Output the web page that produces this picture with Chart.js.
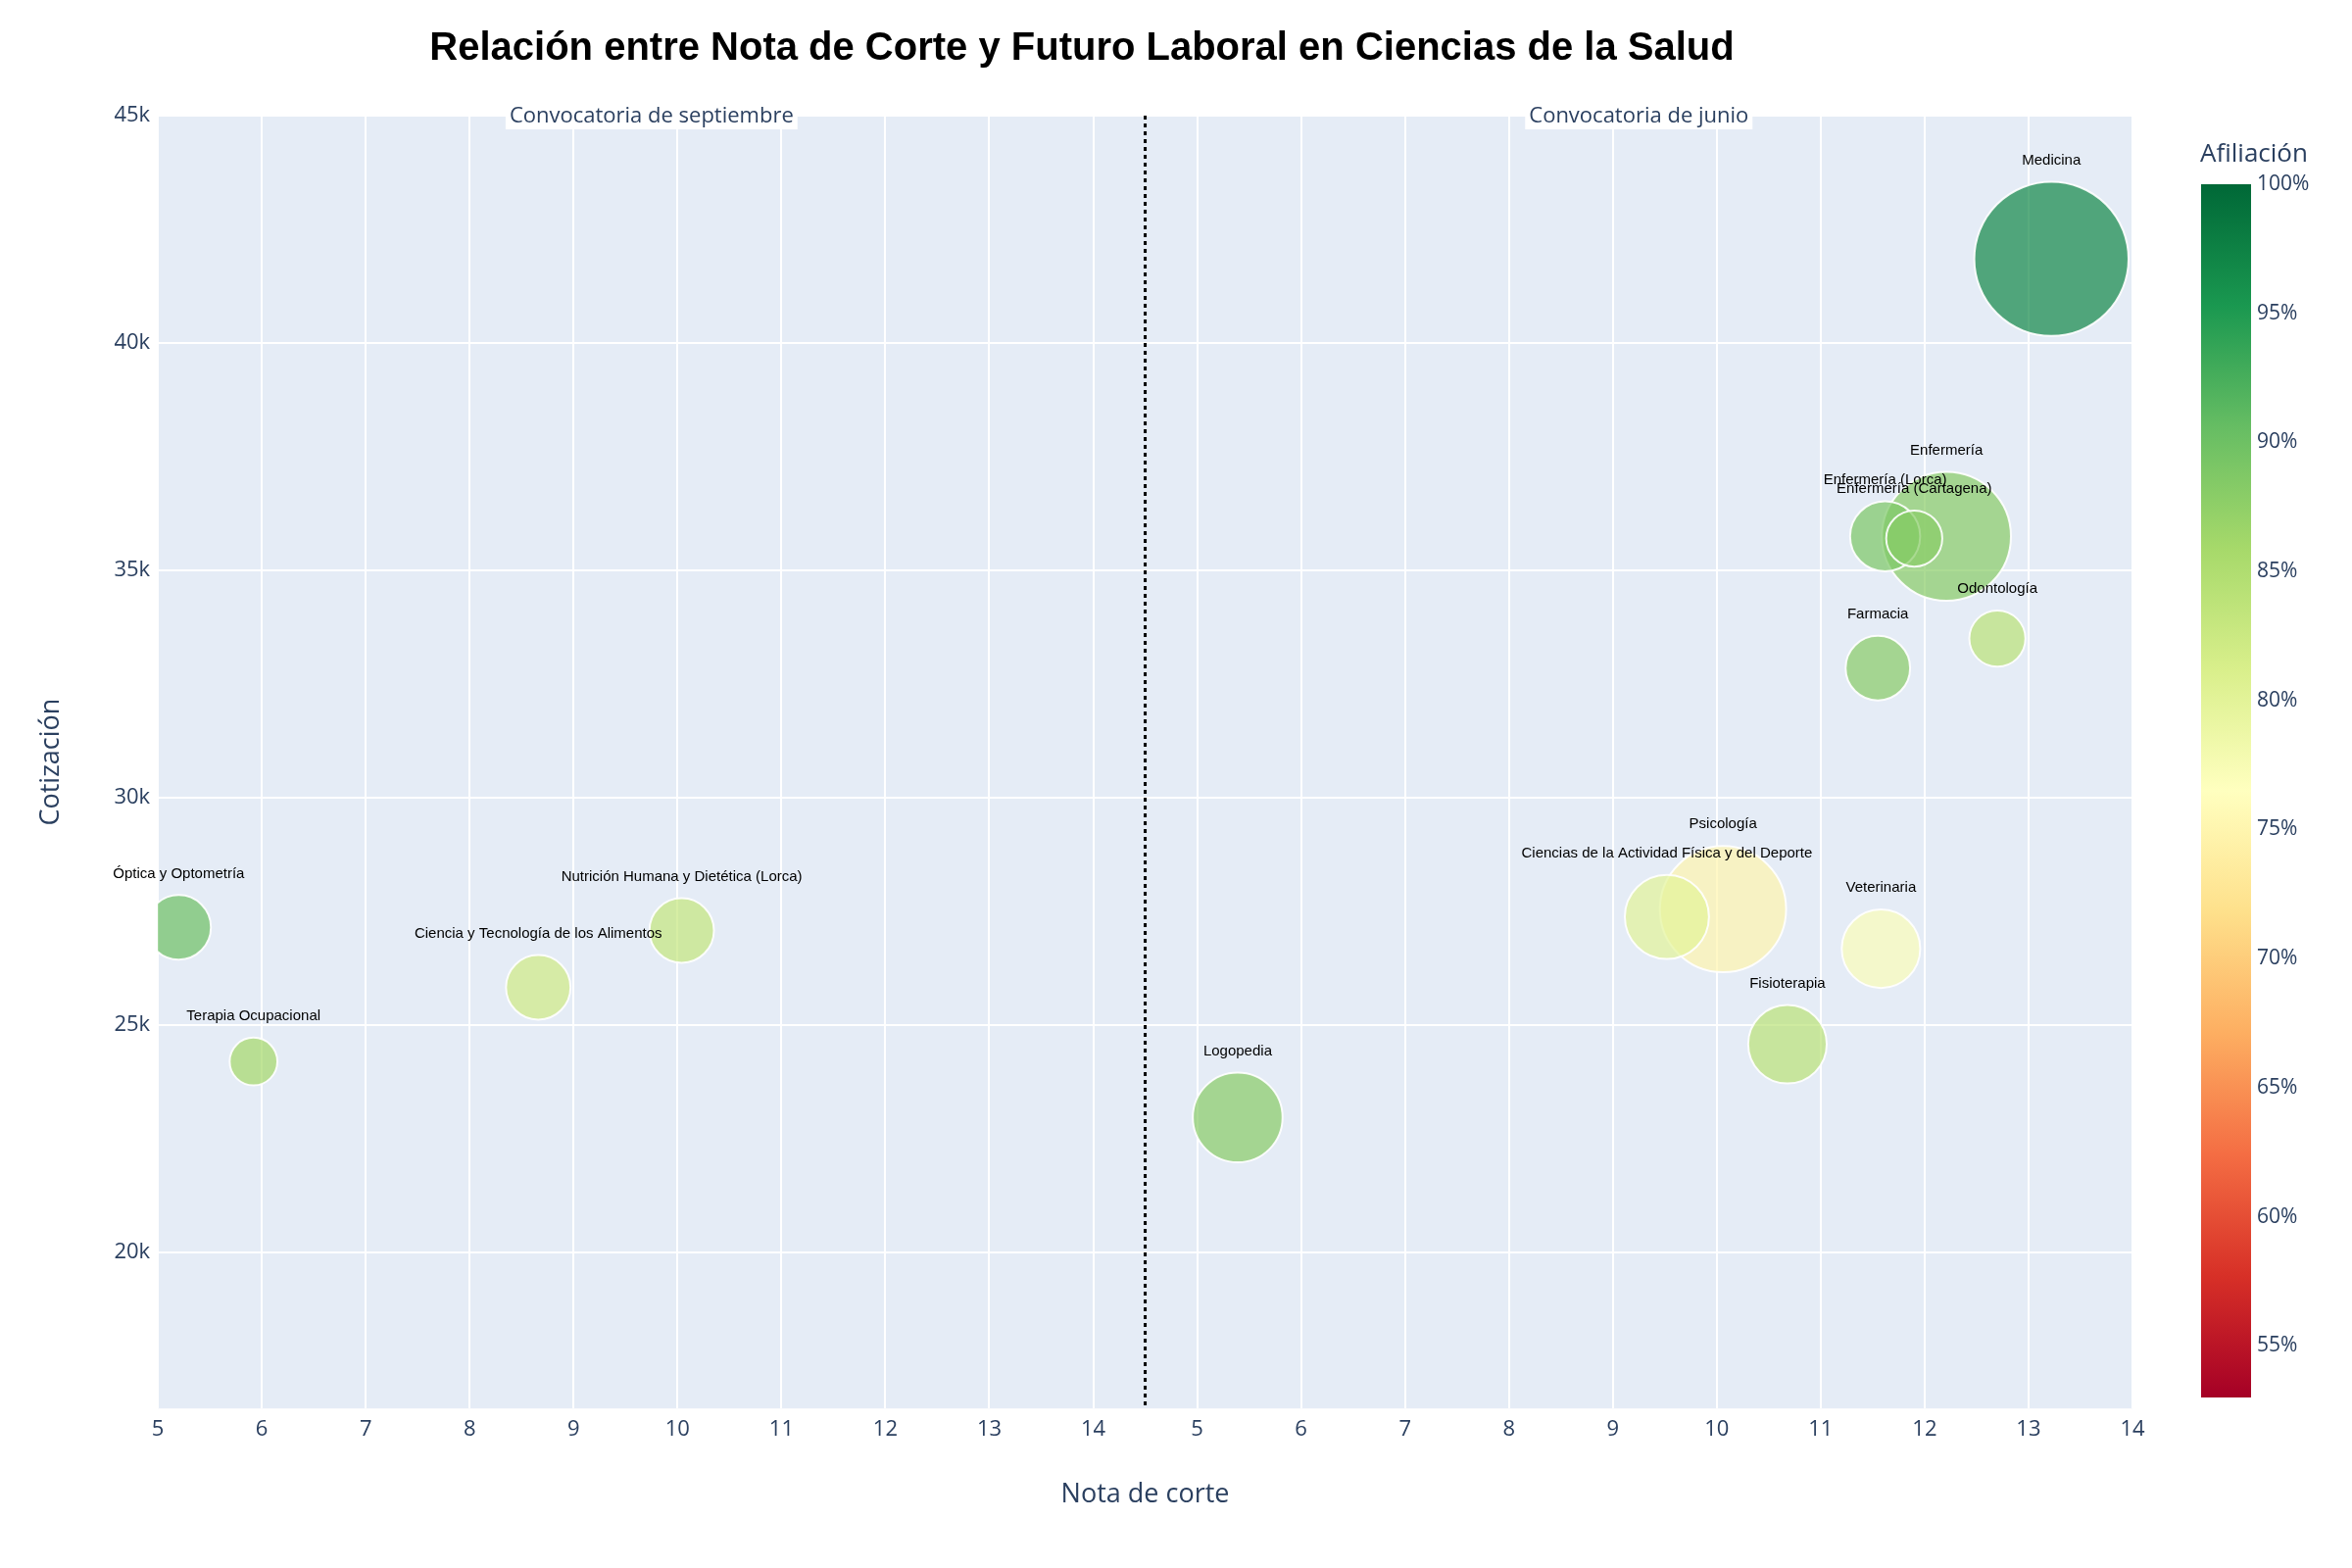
<!DOCTYPE html>
<html>
<head>
<meta charset="utf-8">
<script src="https://cdn.jsdelivr.net/npm/chart.js@4.4.0/dist/chart.umd.min.js"></script>
<style>
  html, body { margin: 0; padding: 0; background: #fff; }
  #wrap { width: 2400px; height: 1600px; }
</style>
</head>
<body>
<div id="wrap"><canvas id="c" width="2400" height="1600"></canvas></div>
<script>
// grados, nota de corte, cotización media, afiliación (%), tamaño de burbuja
const grados = [
  "Medicina", "Enfermería", "Enfermería (Lorca)", "Enfermería (Cartagena)", "Odontología",
  "Farmacia", "Psicología", "Ciencias de la Actividad Física y del Deporte", "Veterinaria",
  "Fisioterapia", "Logopedia", "Óptica y Optometría", "Terapia Ocupacional",
  "Ciencia y Tecnología de los Alimentos", "Nutrición Humana y Dietética (Lorca)"
];
const convocatoria = ["junio", "junio", "junio", "junio", "junio", "junio", "junio", "junio",
  "junio", "junio", "junio", "septiembre", "septiembre", "septiembre", "septiembre"];
const notaCorte = [13.22, 12.21, 11.62, 11.9, 12.70, 11.55, 10.06, 9.52, 11.58, 10.68, 5.39, 5.2, 5.92, 8.66, 10.04];
const cotizacion = [41850, 35750, 35750, 35700, 33500, 32850, 27550, 27380, 26680, 24580, 22970, 27150, 24200, 25830, 27080];
const afiliacion = [97, 88, 89, 88, 84, 88, 75, 80, 77, 84, 88, 90, 86, 82, 83];
const tamano = [55, 46, 25, 20, 20, 23, 45, 30, 28, 28, 32, 23, 17, 23, 23];

const xTicks = [5, 6, 7, 8, 9, 10, 11, 12, 13, 14, 15, 16, 17, 18, 19, 20, 21, 22, 23, 24];
const yTicks = [20000, 25000, 30000, 35000, 40000, 45000];
const cbTicks = [55, 60, 65, 70, 75, 80, 85, 90, 95, 100];
const cbMin = 53, cbMax = 100;

const S = 2400 / 1560 * 0.93;
const JUNIO_OFFSET = 10;

const rdylgn = [
  [165, 0, 38], [215, 48, 39], [244, 109, 67], [253, 174, 97], [254, 224, 139],
  [255, 255, 191], [217, 239, 139], [166, 217, 106], [102, 189, 99], [26, 152, 80], [0, 104, 55]
];
function colorAt(v, a) {
  let t = Math.max(0, Math.min(1, (v - cbMin) / (cbMax - cbMin))) * (rdylgn.length - 1);
  const i = Math.min(rdylgn.length - 2, Math.floor(t));
  const f = t - i;
  const c = rdylgn[i].map((x, k) => Math.round(x + (rdylgn[i + 1][k] - x) * f));
  return `rgba(${c[0]},${c[1]},${c[2]},${a})`;
}

const points = grados.map((g, i) => ({
  x: convocatoria[i] === "junio" ? notaCorte[i] + JUNIO_OFFSET : notaCorte[i],
  y: cotizacion[i],
  r: tamano[i] * S,
  label: g
}));

const extras = {
  id: "extras",
  beforeDraw(chart) {
    const { ctx, chartArea: a } = chart;
    ctx.save();
    ctx.fillStyle = "#e5ecf6";
    ctx.fillRect(a.left, a.top, a.right - a.left, a.bottom - a.top);
    ctx.restore();
  },
  afterDatasetsDraw(chart) {
    const { ctx, chartArea: a, scales } = chart;
    const meta = chart.getDatasetMeta(0);
    ctx.save();
    // divider line
    const xd = scales.x.getPixelForValue(14.5);
    ctx.strokeStyle = "#000";
    ctx.lineWidth = 3;
    ctx.setLineDash([4, 4]);
    ctx.beginPath(); ctx.moveTo(xd, a.top); ctx.lineTo(xd, a.bottom); ctx.stroke();
    ctx.setLineDash([]);
    // bubble labels
    ctx.font = "15px 'Liberation Sans', Arial";
    ctx.fillStyle = "#000";
    ctx.textAlign = "center";
    ctx.textBaseline = "middle";
    meta.data.forEach((el, i) => {
      ctx.fillText(points[i].label, el.x, el.y - points[i].r - 22);
    });
    // section headers
    ctx.font = "22px 'Open Sans'";
    [["Convocatoria de septiembre", (5 + 14.5) / 2], ["Convocatoria de junio", (14.5 + 24) / 2]].forEach(([t, v]) => {
      const px = scales.x.getPixelForValue(v);
      const w = ctx.measureText(t).width + 8;
      ctx.fillStyle = "#fff";
      ctx.fillRect(px - w / 2, a.top - 12, w, 26);
      ctx.fillStyle = "#2a3f5f";
      ctx.fillText(t, px, a.top + 1);
    });
    // colorbar
    const cx = 2246, cw = 51, cTop = 188, cBot = 1426;
    const grad = ctx.createLinearGradient(0, cBot, 0, cTop);
    rdylgn.forEach((c, k) => grad.addColorStop(k / (rdylgn.length - 1), `rgb(${c[0]},${c[1]},${c[2]})`));
    ctx.fillStyle = grad;
    ctx.fillRect(cx, cTop, cw, cBot - cTop);
    ctx.fillStyle = "#2a3f5f";
    ctx.textAlign = "left";
    ctx.font = "21px 'Open Sans'";
    cbTicks.forEach(v => {
      const py = cBot - (v - cbMin) / (cbMax - cbMin) * (cBot - cTop);
      ctx.fillText(v + "%", cx + cw + 6, py);
    });
    ctx.font = "26px 'Open Sans'";
    ctx.fillText("Afiliación", 2245, 158);
    ctx.restore();
  }
};

new Chart(document.getElementById("c"), {
  type: "bubble",
  data: {
    datasets: [{
      data: points,
      backgroundColor: afiliacion.map(v => colorAt(v, 0.7)),
      borderColor: "rgba(255,255,255,0.9)",
      borderWidth: 2
    }]
  },
  options: {
    responsive: false,
    animation: false,
    layout: { padding: { left: 32, right: 224, top: 26, bottom: 54 } },
    plugins: {
      legend: { display: false },
      tooltip: { enabled: false },
      title: {
        display: true,
        text: "Relación entre Nota de Corte y Futuro Laboral en Ciencias de la Salud",
        font: { family: "'Liberation Sans', Arial", size: 40, weight: "bold" },
        color: "#000",
        padding: { top: 0, bottom: 44 }
      }
    },
    scales: {
      x: {
        type: "linear", min: 5, max: 24,
        afterBuildTicks: s => { s.ticks = xTicks.map(v => ({ value: v })); },
        ticks: {
          callback: v => (v > 14.5 ? v - JUNIO_OFFSET : v),
          color: "#2a3f5f", font: { family: "'Open Sans'", size: 22 }, maxRotation: 0, padding: 8
        },
        grid: { color: "#fff", lineWidth: 2, drawTicks: false },
        border: { display: false },
        title: { display: true, text: "Nota de corte", color: "#2a3f5f", font: { family: "'Open Sans'", size: 27 }, padding: { top: 30 } }
      },
      y: {
        type: "linear", min: 16570, max: 45000,
        afterBuildTicks: s => { s.ticks = yTicks.map(v => ({ value: v })); },
        ticks: {
          callback: v => v / 1000 + "k",
          color: "#2a3f5f", font: { family: "'Open Sans'", size: 22 }, padding: 8
        },
        grid: { color: "#fff", lineWidth: 2, drawTicks: false },
        border: { display: false },
        title: { display: true, text: "Cotización", color: "#2a3f5f", font: { family: "'Open Sans'", size: 27 }, padding: { bottom: 40 } }
      }
    }
  },
  plugins: [extras]
});
</script>
</body>
</html>
